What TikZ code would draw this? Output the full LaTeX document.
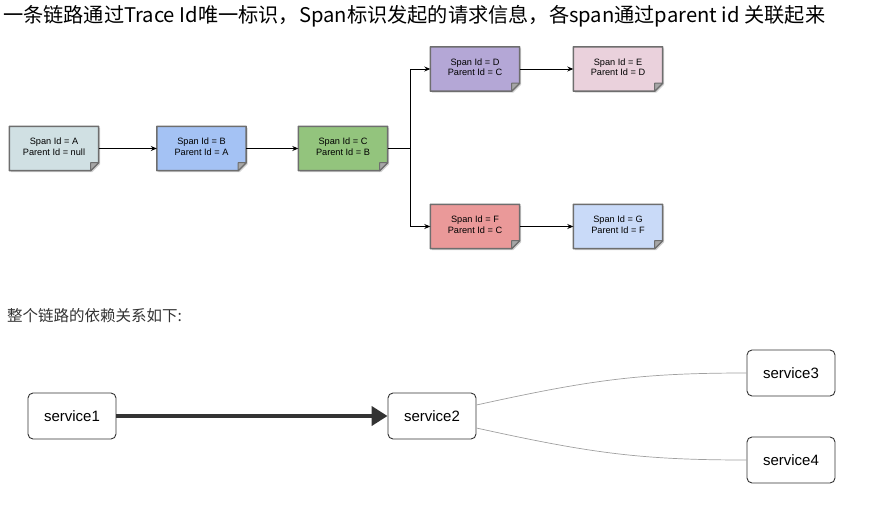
\documentclass[tikz,border=0pt]{standalone}
\usepackage{fontspec}
\newfontfamily\cjk{Noto Sans CJK SC}
\newfontfamily\arialf{Liberation Sans}
\usetikzlibrary{arrows.meta}
\pgfdeclarelayer{background}
\pgfsetlayers{background,main}
\definecolor{cA}{HTML}{D0E0E3}
\definecolor{cB}{HTML}{A4C2F4}
\definecolor{cC}{HTML}{93C47D}
\definecolor{cD}{HTML}{B4A7D6}
\definecolor{cE}{HTML}{EAD1DC}
\definecolor{cF}{HTML}{EA9999}
\definecolor{cG}{HTML}{C9DAF8}
\definecolor{boxline}{HTML}{6E6E6E}
\definecolor{darkline}{HTML}{333333}
\definecolor{curvegray}{HTML}{A0A0A0}
\tikzset{
  spanbox/.style={minimum width=89pt, minimum height=44pt, align=center,
    font=\arialf\fontsize{9.2}{10.5}\selectfont, inner sep=0pt},
  svc/.style={draw=darkline, line width=0.9pt, rounded corners=5pt, fill=white,
    minimum width=88pt, minimum height=46pt, inner sep=0pt,
    font=\arialf\fontsize{15}{18}\selectfont},
  arr/.style={line width=0.9pt, -{Stealth[length=6pt,width=5pt]}},
  thick arr/.style={line width=4pt, darkline, -{Triangle[length=16pt,width=19pt]}},
  curve/.style={curvegray, line width=0.7pt},
}
\newcommand\twolines[2]{#1\\#2\\[-6.5pt]}
\begin{document}
\begin{tikzpicture}[x=1pt,y=-1pt]
\useasboundingbox (0,0) rectangle (875,506);
% title texts
\node[anchor=west, inner sep=0pt, font=\cjk\fontsize{20.2}{24}\selectfont] (title) at (3,16)
  {一条链路通过Trace Id唯一标识，Span标识发起的请求信息，各span通过parent id 关联起来};
\node[anchor=west, inner sep=0pt, text=darkline, font=\cjk\fontsize{15.5}{18}\selectfont] (sub) at (7,316)
  {整个链路的依赖关系如下:};
% span boxes
\node[spanbox] (A) at (54,148.5) {\twolines{Span Id = A}{Parent Id = null}};
\node[spanbox] (B) at (201.5,148.5) {\twolines{Span Id = B}{Parent Id = A}};
\node[spanbox] (C) at (343,148.5) {\twolines{Span Id = C}{Parent Id = B}};
\node[spanbox] (D) at (475,69) {\twolines{Span Id = D}{Parent Id = C}};
\node[spanbox] (E) at (618,69) {\twolines{Span Id = E}{Parent Id = D}};
\node[spanbox] (F) at (475,226.5) {\twolines{Span Id = F}{Parent Id = C}};
\node[spanbox] (G) at (618,226.5) {\twolines{Span Id = G}{Parent Id = F}};
\begin{pgfonlayer}{background}
\foreach \n/\c in {A/cA,B/cB,C/cC,D/cD,E/cE,F/cF,G/cG}{
  \fill[black!18] ([xshift=1.5pt,yshift=-1.5pt]\n.north west) -- ([xshift=1.5pt,yshift=-1.5pt]\n.north east)
    -- ([xshift=1.5pt,yshift=6.5pt]\n.south east) -- ([xshift=-6.5pt,yshift=-1.5pt]\n.south east)
    -- ([xshift=1.5pt,yshift=-1.5pt]\n.south west) -- cycle;
  \filldraw[fill=\c, draw=boxline, line width=1.5pt, line join=round]
    (\n.north west) -- (\n.north east) -- ([yshift=8pt]\n.south east)
    -- ([xshift=-8pt]\n.south east) -- (\n.south west) -- cycle;
  \filldraw[fill=black!35, draw=boxline, line width=1pt, line join=round]
    ([yshift=8pt]\n.south east) -- ([xshift=-8pt,yshift=8pt]\n.south east)
    -- ([xshift=-8pt]\n.south east) -- cycle;
}
\end{pgfonlayer}
\draw[arr] (A) -- (B);
\draw[arr] (B) -- (C);
\coordinate (split) at (410,148.5);
\draw[line width=0.9pt] (C.east) -- (split);
\draw[arr] (split) |- (D.west);
\draw[arr] (split) |- (F.west);
\draw[arr] (D) -- (E);
\draw[arr] (F) -- (G);
% services
\node[svc] (s1) at (72,416) {service1};
\node[svc] (s2) at (432,416) {service2};
\node[svc] (s3) at (791,373) {service3};
\node[svc] (s4) at (791,460) {service4};
\draw[thick arr] (s1) -- (s2);
\draw[curve] ([yshift=11pt]s2.east) .. controls (590,380) and (640,373) .. (s3.west);
\draw[curve] ([yshift=-12pt]s2.east) .. controls (590,453) and (640,460) .. (s4.west);
\end{tikzpicture}
\end{document}
